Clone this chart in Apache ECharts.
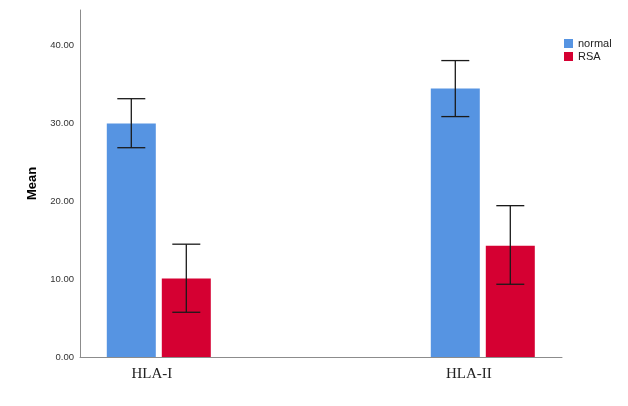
<!DOCTYPE html>
<html>
<head>
<meta charset="utf-8">
<script src="https://cdn.jsdelivr.net/npm/echarts@6/dist/echarts.min.js"></script>
<style>html,body{margin:0;padding:0;background:#fff;}#c{width:628px;height:406px;}</style>
</head>
<body>
<div id="c"></div>
<script>
var categories = ['HLA-I', 'HLA-II'];
var seriesNames = ['normal', 'RSA'];
var normalMean = [30.0, 34.5];
var normalLow = [26.9, 30.9];
var normalHigh = [33.2, 38.1];
var rsaMean = [10.1, 14.3];
var rsaLow = [5.75, 9.35];
var rsaHigh = [14.5, 19.45];
var yTicks = [0, 10, 20, 30, 40];

var colors = ['#5694E2', '#D50032'];
var BAR_W = 49, GAP = 6, CAP = 28;
var Y_MAX = 44.6;

function errData(low, high) {
  return categories.map(function (c, i) { return [i, low[i], high[i]]; });
}
function errRender(offset) {
  return function (params, api) {
    var cx = api.coord([api.value(0), 0])[0] + offset;
    var lo = api.coord([api.value(0), api.value(1)])[1];
    var hi = api.coord([api.value(0), api.value(2)])[1];
    var st = { stroke: '#1a1a1a', lineWidth: 1.3 };
    return {
      type: 'group',
      children: [
        { type: 'line', shape: { x1: cx, y1: lo, x2: cx, y2: hi }, style: st },
        { type: 'line', shape: { x1: cx - CAP / 2, y1: lo, x2: cx + CAP / 2, y2: lo }, style: st },
        { type: 'line', shape: { x1: cx - CAP / 2, y1: hi, x2: cx + CAP / 2, y2: hi }, style: st }
      ]
    };
  };
}

var chart = echarts.init(document.getElementById('c'), null, { renderer: 'canvas' });
var off = (BAR_W + GAP) / 2;
chart.setOption({
  backgroundColor: '#ffffff',
  animation: false,
  grid: [
    { left: -3.2, width: 648, top: 10, bottom: 49, outerBoundsMode: 'none', containLabel: false },
    { left: 80, right: 66, top: 10, bottom: 49, outerBoundsMode: 'none', containLabel: false }
  ],
  legend: {
    orient: 'vertical', left: 564, top: 38, padding: 0,
    itemWidth: 9, itemHeight: 9, itemGap: 2,
    icon: 'rect',
    data: seriesNames,
    textStyle: { fontFamily: 'Liberation Sans, Arial, sans-serif', fontSize: 11, color: '#222' },
    itemStyle: { borderWidth: 0 }
  },
  xAxis: [
    {
      type: 'category', gridIndex: 0, data: categories, boundaryGap: true,
      axisLine: { show: false }, axisTick: { show: false },
      axisLabel: {
        margin: 10,
        formatter: function (v, i) { return '{c' + i + '|' + v + '}'; },
        rich: {
          c0: { fontFamily: 'Liberation Serif, Times New Roman, serif', fontSize: 15, color: '#222', padding: [0, 14, 0, 0] },
          c1: { fontFamily: 'Liberation Serif, Times New Roman, serif', fontSize: 15, color: '#222', padding: [0, 28, 0, 0] }
        }
      }
    },
    {
      type: 'value', gridIndex: 1, min: 0, max: 1,
      axisLine: { show: true, onZero: false, lineStyle: { color: '#8c8c8c', width: 1 } },
      axisTick: { show: false }, axisLabel: { show: false }, splitLine: { show: false }
    }
  ],
  yAxis: [
    {
      type: 'value', gridIndex: 0, min: 0, max: Y_MAX,
      show: false, splitLine: { show: false }
    },
    {
      type: 'value', gridIndex: 1, min: 0, max: Y_MAX, interval: 10,
      name: 'Mean', nameLocation: 'middle', nameGap: 41,
      nameTextStyle: { fontFamily: 'Liberation Sans, Arial, sans-serif', fontSize: 13, fontWeight: 'bold', color: '#000' },
      axisLine: { show: true, lineStyle: { color: '#8c8c8c', width: 1 } },
      axisTick: { show: false },
      splitLine: { show: false },
      axisLabel: {
        margin: 6, fontFamily: 'Liberation Sans, Arial, sans-serif', fontSize: 9.5, color: '#333',
        formatter: function (v) { return yTicks.indexOf(v) >= 0 ? v.toFixed(2) : ''; }
      }
    }
  ],
  series: [
    {
      name: seriesNames[0], type: 'bar', xAxisIndex: 0, yAxisIndex: 0,
      data: normalMean, barWidth: BAR_W, barGap: (GAP / BAR_W * 100) + '%',
      itemStyle: { color: colors[0] }
    },
    {
      name: seriesNames[1], type: 'bar', xAxisIndex: 0, yAxisIndex: 0,
      data: rsaMean, barWidth: BAR_W, barGap: (GAP / BAR_W * 100) + '%',
      itemStyle: { color: colors[1] }
    },
    {
      type: 'custom', xAxisIndex: 0, yAxisIndex: 0, silent: true, z: 5,
      data: errData(normalLow, normalHigh), renderItem: errRender(-off)
    },
    {
      type: 'custom', xAxisIndex: 0, yAxisIndex: 0, silent: true, z: 5,
      data: errData(rsaLow, rsaHigh), renderItem: errRender(off)
    }
  ]
});
</script>
</body>
</html>
